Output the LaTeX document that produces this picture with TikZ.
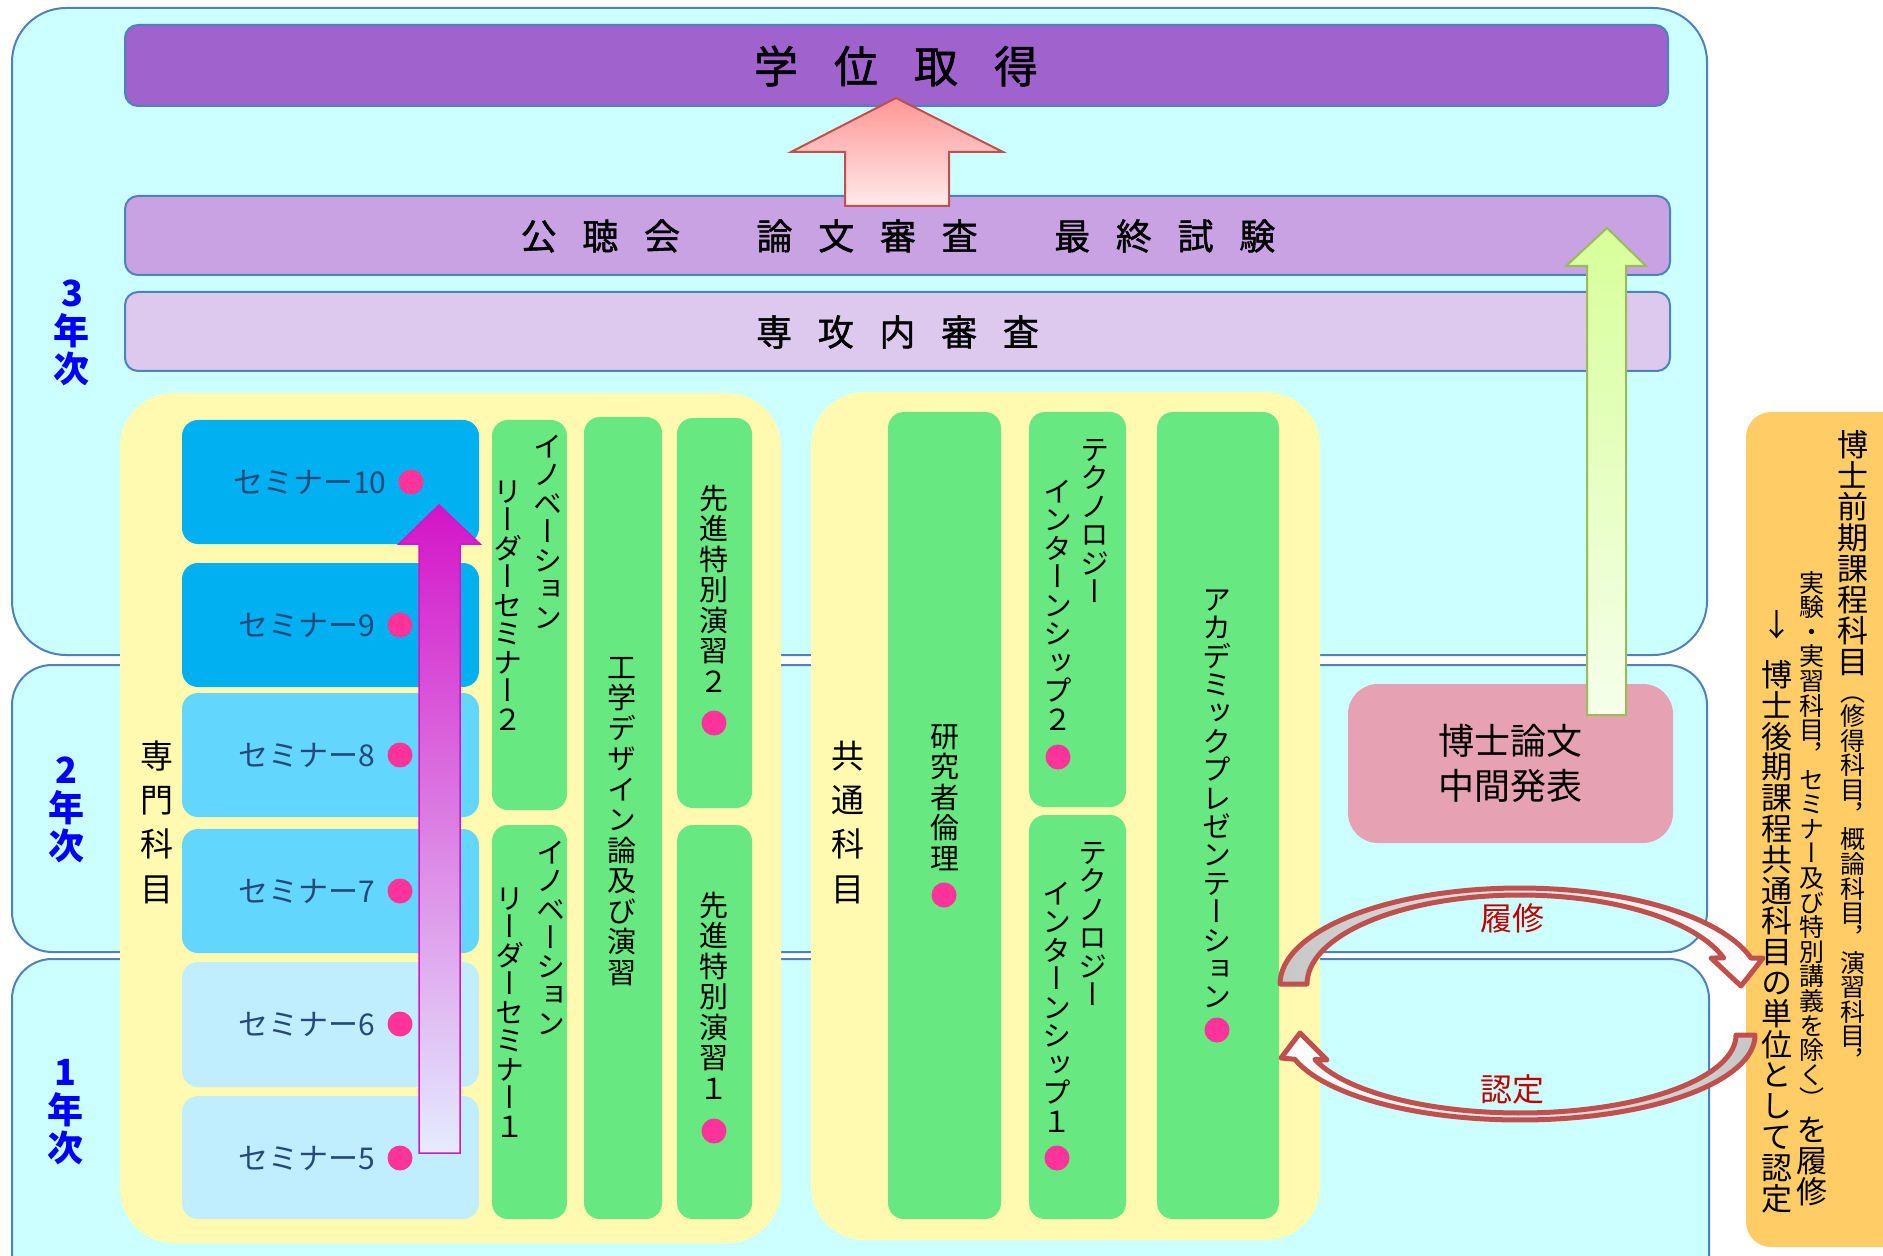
\documentclass[tikz,border=0pt]{standalone}
\usepackage{fontspec}
\newfontfamily\jp{Noto Sans CJK JP}
\newfontfamily\jpm{Noto Sans CJK JP}[FakeBold=1.2]
\newfontfamily\jpv{Noto Sans CJK JP}[RawFeature=+vert]

\definecolor{cBandFill}{RGB}{204,255,255}
\definecolor{cBandLine}{RGB}{79,129,189}
\definecolor{cBarA}{RGB}{160,98,205}
\definecolor{cBarB}{RGB}{200,162,226}
\definecolor{cBarC}{RGB}{221,200,238}
\definecolor{cPanel}{RGB}{255,250,176}
\definecolor{cSemA}{RGB}{0,176,240}
\definecolor{cSemB}{RGB}{99,214,253}
\definecolor{cSemC}{RGB}{192,238,255}
\definecolor{cSemText}{RGB}{38,72,122}
\definecolor{cGreen}{RGB}{104,232,128}
\definecolor{cDot}{RGB}{255,51,153}
\definecolor{cThesis}{RGB}{230,162,178}
\definecolor{cOrange}{RGB}{255,204,102}
\definecolor{cRedText}{RGB}{192,0,0}
\definecolor{cArrowRed}{RGB}{192,80,77}
\definecolor{cYear}{RGB}{0,0,255}
\definecolor{cMagenta}{RGB}{212,20,200}
\definecolor{cMagMid}{RGB}{205,120,228}
\definecolor{cMagBot}{RGB}{228,236,255}
\definecolor{cPinkTop}{RGB}{255,150,150}
\definecolor{cPinkBot}{RGB}{255,234,234}
\definecolor{cGreenLine}{RGB}{155,187,89}
\definecolor{cGreenTop}{RGB}{215,255,153}
\definecolor{cGreenBot}{RGB}{245,255,235}

\newdimen\tatep
\makeatletter
\def\tate@end{TATEEND}
\newcommand\tatebox[2]{\vtop{\offinterlineskip\tatep=#1\relax\tate@loop#2\tate@end}}
\def\tate@loop#1{\ifx#1\tate@end\else\tate@cell{#1}\expandafter\tate@loop\fi}
\def\tate@cell#1{\hbox to 1em{\hss#1\hss\vrule height .88\tatep depth .12\tatep width 0pt}}
\makeatother

\newcommand\bx[7]{%
  \node[#1, inner sep=0pt, outer sep=0pt,
        minimum width={(#5-#3)*0.5pt}, minimum height={(#6-#4)*0.5pt}]
        (#2) at ({(#3+#5)/2},{(#4+#6)/2}) {#7};}

\begin{document}
\begin{tikzpicture}[x=0.5pt,y=-0.5pt,
  band/.style={draw=cBandLine, line width=1pt, fill=cBandFill},
  bar/.style={draw=cBandLine, line width=1pt, rounded corners=6.5pt},
  panelbox/.style={fill=cPanel, rounded corners=27pt},
  sembox/.style={rounded corners=8pt},
  colbox/.style={fill=cGreen, rounded corners=8pt},
  pinkdot/.style={circle, fill=cDot, minimum size=12.5pt, inner sep=0pt},
  tate/.style={inner sep=0pt, anchor=north, font=\jpv\fontsize{14.5}{14.5}\selectfont},
  semtxt/.style={inner sep=0pt, anchor=east, text=cSemText, font=\jp\fontsize{15}{15}\selectfont},
  bartxt/.style={inner sep=0pt, font=\jpm\fontsize{18}{18}\selectfont},
  yeartxt/.style={inner sep=0pt, align=center, text=cYear, font=\jp\bfseries\fontsize{18}{19}\selectfont},
  redlbl/.style={inner sep=0pt, text=cRedText, font=\jp\fontsize{16}{16}\selectfont},
  curvarrow/.style={draw=cArrowRed, line width=2.5pt, line join=round}
]
\clip (0,0) rectangle (1883,1256);
\fill[white] (0,0) rectangle (1883,1256);

% year bands
\bx{band, rounded corners=27pt}{b3}{12}{8}{1707}{655}{}
\bx{band, rounded corners=20pt}{b2}{12}{665}{1707}{952}{}
\bx{band, rounded corners=20pt}{b1}{12}{959}{1709}{1300}{}

% top bars
\bx{bar, fill=cBarA}{barA}{125}{25}{1668}{106}{}
\bx{bar, fill=cBarB}{barB}{125}{196}{1670}{275}{}
\bx{bar, fill=cBarC}{barC}{125}{292}{1670}{371}{}
\node[inner sep=0pt, font=\jpm\fontsize{22}{22}\selectfont] (tA) at (896,66)
  {学\hspace{18pt}位\hspace{18pt}取\hspace{18pt}得};
\node[bartxt] (tB) at (898,236)
  {公\hspace{12.85pt}聴\hspace{12.85pt}会\hspace{38.25pt}論\hspace{12.85pt}文\hspace{12.85pt}審\hspace{12.85pt}査\hspace{38.25pt}最\hspace{12.85pt}終\hspace{12.85pt}試\hspace{12.85pt}験};
\node[bartxt] (tC) at (897.5,332)
  {専\hspace{12.85pt}攻\hspace{12.85pt}内\hspace{12.85pt}審\hspace{12.85pt}査};

% pink up arrow
\path[draw=cArrowRed, line width=1pt, top color=cPinkTop, bottom color=cPinkBot]
  (896,98) -- (1003,152) -- (949,152) -- (949,206) -- (845,206) -- (845,152) -- (791,152) -- cycle;

% year labels
\node[yeartxt] (y3) at (72,333) {3\\年\\次};
\node[yeartxt] (y2) at (66,810) {2\\年\\次};
\node[yeartxt] (y1) at (65,1112) {1\\年\\次};

% panels
\bx{panelbox}{pS}{120}{393}{781}{1243}{}
\bx{panelbox}{pK}{811}{392}{1320}{1240}{}
\node[inner sep=0pt, font=\jpv\fontsize{16.5}{16.5}\selectfont] (lS) at (157,818) {\tatebox{22.15pt}{専門科目}};
\node[inner sep=0pt, font=\jpv\fontsize{16.5}{16.5}\selectfont] (lK) at (848,818) {\tatebox{22.15pt}{共通科目}};

% seminar boxes
\bx{sembox, fill=cSemA}{s10}{182}{420}{479}{544}{}
\bx{sembox, fill=cSemA}{s9}{182}{563}{479}{687}{}
\bx{sembox, fill=cSemB}{s8}{182}{693}{479}{817}{}
\bx{sembox, fill=cSemB}{s7}{182}{829}{479}{953}{}
\bx{sembox, fill=cSemC}{s6}{182}{962}{479}{1087}{}
\bx{sembox, fill=cSemC}{s5}{182}{1096}{479}{1219}{}
\node[semtxt] (ts10) at (387,482) {セミナー10};
\node[semtxt] (ts9) at (376,625) {セミナー9};
\node[semtxt] (ts8) at (376,755) {セミナー8};
\node[semtxt] (ts7) at (376,891) {セミナー7};
\node[semtxt] (ts6) at (376,1024) {セミナー6};
\node[semtxt] (ts5) at (376,1158) {セミナー5};
\node[pinkdot] (d10) at (411,482) {};
\node[pinkdot] (d9) at (400,625) {};
\node[pinkdot] (d8) at (400,755) {};
\node[pinkdot] (d7) at (400,891) {};
\node[pinkdot] (d6) at (400,1024) {};
\node[pinkdot] (d5) at (400,1158) {};

% magenta arrow
\path[draw=cMagenta, line width=0.75pt, top color=cMagenta, middle color=cMagMid, bottom color=cMagBot]
  (439,505) -- (480,544) -- (460,544) -- (460,1153) -- (419,1153) -- (419,544) -- (399,544) -- cycle;

% green columns (specialised)
\bx{colbox}{cA2}{492}{420}{567}{810}{}
\bx{colbox}{cA1}{492}{825}{567}{1219}{}
\bx{colbox}{cB}{584}{417}{662}{1219}{}
\bx{colbox}{cC2}{677}{418}{752}{808}{}
\bx{colbox}{cC1}{677}{825}{752}{1219}{}
\node[tate] (tA2a) at (548,432) {\tatebox{14.25pt}{イノベーション}};
\node[tate] (tA2b) at (508,477) {\tatebox{14.25pt}{リーダーセミナー２}};
\node[tate] (tA1a) at (551,838) {\tatebox{14.25pt}{イノベーション}};
\node[tate] (tA1b) at (510,884) {\tatebox{14.25pt}{リーダーセミナー１}};
\node[tate, anchor=center] (tB) at (622,819) {\tatebox{15.25pt}{工学デザイン論及び演習}};
\node[tate] (tC2) at (714,482) {\tatebox{15.25pt}{先進特別演習２}};
\node[pinkdot] (dC2) at (714,723) {};
\node[tate] (tC1) at (714,889) {\tatebox{15.25pt}{先進特別演習１}};
\node[pinkdot] (dC1) at (714,1131) {};

% green columns (common)
\bx{colbox}{cR}{888}{412}{1001}{1219}{}
\bx{colbox}{cT2}{1029}{412}{1126}{807}{}
\bx{colbox}{cT1}{1029}{815}{1126}{1219}{}
\bx{colbox}{cP}{1157}{412}{1279}{1219}{}
\node[tate] (tR) at (945,720) {\tatebox{15.25pt}{研究者倫理}};
\node[pinkdot] (dR) at (944,895) {};
\node[tate] (tT2a) at (1095,435) {\tatebox{14.25pt}{テクノロジー}};
\node[tate] (tT2b) at (1058,477) {\tatebox{14.25pt}{インターンシップ２}};
\node[pinkdot] (dT2) at (1058,757) {};
\node[tate] (tT1a) at (1093,838) {\tatebox{14.25pt}{テクノロジー}};
\node[tate] (tT1b) at (1057,879) {\tatebox{14.25pt}{インターンシップ１}};
\node[pinkdot] (dT1) at (1057,1158) {};
\node[tate] (tP) at (1217,585) {\tatebox{14.2pt}{アカデミックプレゼンテーション}};
\node[pinkdot] (dP) at (1217,1030) {};

% orange box
\bx{fill=cOrange, rounded corners=12.5pt}{ob}{1746}{412}{1930}{1247}{}
\node[tate, font=\jpv\fontsize{15.5}{15.5}\selectfont] (o1a) at (1853,429) {\tatebox{15.5pt}{博士前期課程科目}};
\node[tate, font=\jpv\fontsize{12.5}{12.5}\selectfont] (o1b) at (1853,679) {\tatebox{12.3pt}{（修得科目，概論科目，演習科目，}};
\node[tate, font=\jpv\fontsize{12.5}{12.5}\selectfont] (o2a) at (1812,570) {\tatebox{12.3pt}{実験・実習科目，セミナー及び特別講義を除く）}};
\node[tate, font=\jpv\fontsize{15.5}{15.5}\selectfont] (o2b) at (1812,1114) {\tatebox{15.5pt}{を履修}};
\node[inner sep=0pt, font=\jp\fontsize{15.5}{15.5}\selectfont] (o3a) at (1777,625) {↓};
\node[tate, font=\jpv\fontsize{15.5}{15.5}\selectfont] (o3b) at (1777,659) {\tatebox{15.4pt}{博士後期課程共通科目の単位として認定}};

% thesis box
\bx{fill=cThesis, rounded corners=15pt, align=center, font=\jp\fontsize{18}{22.5}\selectfont}{th}{1348}{684}{1673}{843}{博士論文\\中間発表}

% green up arrow
\path[draw=cGreenLine, line width=1pt, top color=cGreenTop, bottom color=cGreenBot]
  (1607,228) -- (1646,266) -- (1626,266) -- (1626,715) -- (1587,715) -- (1587,266) -- (1566,266) -- cycle;

% curved arrows
\path[curvarrow, left color=black!22, right color=white]
  plot[domain=180:344.3, samples=60, variable=\t] ({1520+240*cos(\t)},{984+96*sin(\t)})
  -- (1763,958) -- (1741,986) -- (1711,958)
  -- plot[domain=343:180, samples=60, variable=\t] ({1520+213*cos(\t)},{984+89*sin(\t)})
  -- cycle;
\path[curvarrow, left color=white, right color=black!22]
  plot[domain=0:163.4, samples=60, variable=\t] ({1520+235*cos(\t)},{1035+85*sin(\t)})
  -- (1281,1058) -- (1300,1033) -- (1327,1060)
  -- plot[domain=161.8:0, samples=60, variable=\t] ({1520+216*cos(\t)},{1035+78*sin(\t)})
  -- cycle;
\node[redlbl] (lr) at (1512,918) {履修};
\node[redlbl] (ln) at (1512,1089) {認定};
\end{tikzpicture}
\end{document}
